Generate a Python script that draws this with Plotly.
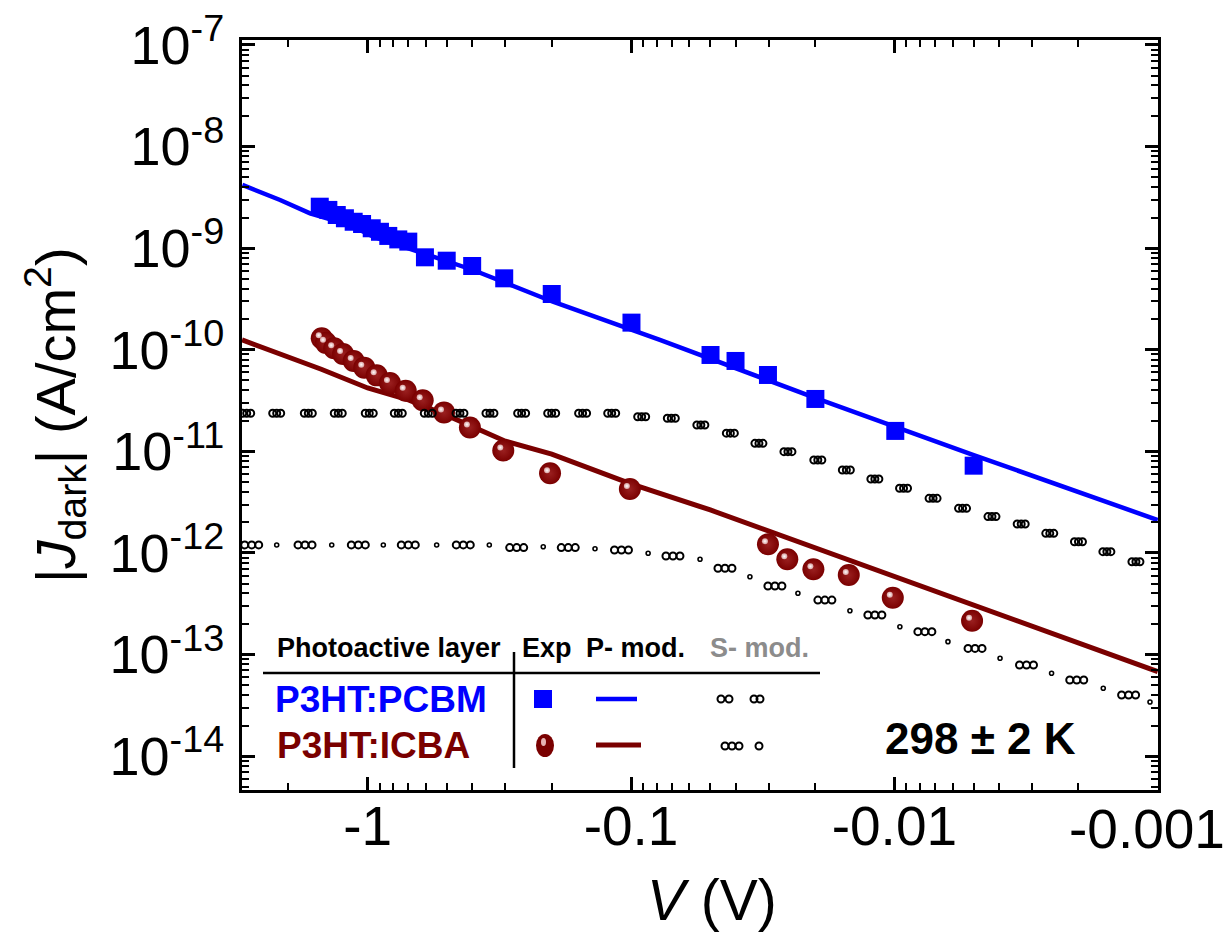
import math
import plotly.graph_objects as go

# ---------------- data: |V| (V) and |J_dark| (A/cm^2) ----------------
# P3HT:PCBM, experiment
pcbm_exp_v = [1.52, 1.41, 1.31, 1.22, 1.13, 1.05, 0.965, 0.898, 0.835, 0.765, 0.701,
              0.606, 0.501, 0.401, 0.303, 0.200, 0.0996, 0.0499, 0.0401, 0.0302,
              0.01995, 0.00992, 0.0050]
pcbm_exp_j = [2.56e-9, 2.38e-9, 2.12e-9, 1.97e-9, 1.82e-9, 1.73e-9, 1.57e-9, 1.45e-9,
              1.32e-9, 1.22e-9, 1.16e-9, 8.13e-10, 7.53e-10, 6.68e-10, 5.05e-10,
              3.54e-10, 1.85e-10, 8.89e-11, 7.76e-11, 5.65e-11, 3.28e-11, 1.59e-11,
              7.23e-12]

# P3HT:PCBM, P-model
pcbm_p_v = [2.99, 2.15, 1.655, 1.167, 0.952, 0.673, 0.398, 0.198, 0.0777, 0.02, 0.005, 0.001]
pcbm_p_j = [4.19e-9, 2.98e-9, 2.20e-9, 1.69e-9, 1.30e-9, 9.58e-10, 6.10e-10, 2.97e-10,
            1.25e-10, 3.37e-11, 9.2e-12, 2.11e-12]

# P3HT:PCBM, S-model
pcbm_s_v = [2.879, 2.215, 1.680, 1.293, 0.986, 0.765, 0.5886, 0.4461, 0.3432, 0.2602,
            0.2001, 0.1527, 0.1184, 0.0911, 0.0703, 0.0543, 0.04196, 0.03268, 0.02536,
            0.01953, 0.01522, 0.01186, 0.00923, 0.00713, 0.00551, 0.00426, 0.0033,
            0.00257, 0.0020, 0.00156, 0.00121]
pcbm_s_j = [2.37e-11, 2.37e-11, 2.37e-11, 2.37e-11, 2.37e-11, 2.37e-11, 2.37e-11,
            2.37e-11, 2.37e-11, 2.37e-11, 2.37e-11, 2.37e-11, 2.37e-11, 2.19e-11,
            2.12e-11, 1.82e-11, 1.51e-11, 1.20e-11, 9.93e-12, 8.22e-12, 6.56e-12,
            5.35e-12, 4.33e-12, 3.45e-12, 2.75e-12, 2.28e-12, 1.93e-12, 1.56e-12,
            1.29e-12, 1.03e-12, 8.2e-13]

# P3HT:ICBA, experiment
icba_exp_v = [1.494, 1.44, 1.34, 1.24, 1.13, 1.03, 0.924, 0.823, 0.717, 0.618, 0.513,
              0.409, 0.3055, 0.203, 0.101, 0.0302, 0.0255, 0.0203, 0.0149, 0.01014, 0.00507]
icba_exp_j = [1.30e-10, 1.17e-10, 1.035e-10, 9.1e-11, 7.75e-11, 6.67e-11, 5.6e-11,
              4.71e-11, 3.95e-11, 3.18e-11, 2.42e-11, 1.72e-11, 1.02e-11, 6.08e-12,
              4.26e-12, 1.22e-12, 8.66e-13, 6.9e-13, 6.07e-13, 3.63e-13, 2.15e-13]

# P3HT:ICBA, P-model
icba_p_v = [3.0, 2.0, 1.5, 1.0, 0.7, 0.5, 0.3, 0.2, 0.1, 0.05, 0.02, 0.01, 0.005, 0.002, 0.001]
icba_p_j = [1.25e-10, 8.49e-11, 6.43e-11, 4.21e-11, 3.21e-11, 2.26e-11, 1.26e-11, 9.4e-12,
            4.78e-12, 2.65e-12, 1.12e-12, 5.86e-13, 3.06e-13, 1.30e-13, 6.8e-14]

# P3HT:ICBA, S-model (grouped points and single points)
icba_s_v = [2.756, 1.729, 1.085, 0.701, 0.4334, 0.2717, 0.1731, 0.1087, 0.0693, 0.04398,
            0.02842, 0.01836, 0.01186, 0.00766, 0.00494, 0.00315, 0.00203, 0.00129]
icba_s_j = [1.20e-12, 1.20e-12, 1.20e-12, 1.20e-12, 1.20e-12, 1.13e-12, 1.13e-12, 1.07e-12,
            9.33e-13, 7.07e-13, 4.73e-13, 3.44e-13, 2.45e-13, 1.68e-13, 1.15e-13, 7.89e-14,
            5.62e-14, 4.00e-14]
icba_s1_v = [2.215, 1.369, 0.872, 0.547, 0.3452, 0.2154, 0.137, 0.0861, 0.0547, 0.03536,
             0.02324, 0.01475, 0.00953, 0.00626, 0.00397, 0.00253, 0.00161, 0.00107]
icba_s1_j = [1.20e-12, 1.20e-12, 1.20e-12, 1.20e-12, 1.20e-12, 1.15e-12, 1.10e-12, 9.93e-13,
             8.66e-13, 5.84e-13, 4.01e-13, 2.70e-13, 1.88e-13, 1.34e-13, 9.19e-14, 6.54e-14,
             4.66e-14, 3.41e-14]

x_tick_vals = [1, 0.1, 0.01, 0.001]
x_tick_text = ["-1", "-0.1", "-0.01", "-0.001"]
y_tick_exps = [-14, -13, -12, -11, -10, -9, -8, -7]

# ---------------- layout constants ----------------
W, H = 1230, 936
L, R, T, B = 242, 72, 40, 146
PW, PH = W - L - R, H - T - B
XR = [math.log10(3.0), -3.001]        # reversed log axis (|V|)
YR = [-14.333, -6.951]

BLUE = "#0000ff"
MAROON = "#7a0000"
FONT = "Liberation Sans, Arial, sans-serif"
XTICK_SIZE = 55

kx = PW / (XR[0] - XR[1])
ky = PH / (YR[1] - YR[0])


def px(x):
    return (x - L) / PW


def py(y):
    return (T + PH - y) / PH


def shifted(dx, dy):
    """Axis ranges that move drawn marks by dx (right) / dy (up) pixels."""
    d, e = dx / kx, dy / ky
    return [XR[0] + d, XR[1] + d], [YR[0] - e, YR[1] - e]


fig = go.Figure()

# S-model (drawn first, beneath the rest)
s_mark = dict(symbol="circle-open", size=7, color="black", line=dict(width=2, color="black"))
fig.add_trace(go.Scatter(x=icba_s1_v, y=icba_s1_j, mode="markers",
                         marker=dict(symbol="circle-open", size=4, color="black",
                                     line=dict(width=1.6, color="black"))))
for ax in ("", "2", "3"):
    fig.add_trace(go.Scatter(x=pcbm_s_v, y=pcbm_s_j, mode="markers", marker=s_mark,
                             xaxis="x" + ax if ax else "x", yaxis="y" + ax if ax else "y"))
for ax in ("", "6", "7"):
    fig.add_trace(go.Scatter(x=icba_s_v, y=icba_s_j, mode="markers", marker=s_mark,
                             xaxis="x" + ax if ax else "x", yaxis="y" + ax if ax else "y"))

# P-model lines
fig.add_trace(go.Scatter(x=pcbm_p_v, y=pcbm_p_j, mode="lines",
                         line=dict(color=BLUE, width=4.5)))
fig.add_trace(go.Scatter(x=icba_p_v, y=icba_p_j, mode="lines",
                         line=dict(color=MAROON, width=5)))

# experiments
fig.add_trace(go.Scatter(x=pcbm_exp_v, y=pcbm_exp_j, mode="markers",
                         marker=dict(symbol="square", size=18, color=BLUE, line=dict(width=0))))
fig.add_trace(go.Scatter(x=icba_exp_v, y=icba_exp_j, mode="markers",
                         marker=dict(symbol="circle", size=22, color=MAROON, line=dict(width=0),
                                     gradient=dict(type="radial", color="#9a2020"))))
# sphere highlights
fig.add_trace(go.Scatter(x=icba_exp_v, y=icba_exp_j, mode="markers", xaxis="x4", yaxis="y4",
                         marker=dict(symbol="circle", size=6, color="#d9a0a0", line=dict(width=0),
                                     gradient=dict(type="radial", color="#ffffff"))))

# legend key glyphs (on a 0..1 overlay frame)
fig.add_trace(go.Scatter(x=[px(543)], y=[py(699)], mode="markers", xaxis="x5", yaxis="y5",
                         marker=dict(symbol="square", size=18, color=BLUE, line=dict(width=0))))
fig.add_trace(go.Scatter(x=[px(x) for x in (721, 729, 754, 760)], y=[py(699)] * 4,
                         mode="markers", xaxis="x5", yaxis="y5", marker=s_mark))
fig.add_trace(go.Scatter(x=[px(x) for x in (725, 732, 739, 759)], y=[py(746)] * 4,
                         mode="markers", xaxis="x5", yaxis="y5", marker=s_mark))

axis_common = dict(showgrid=False, zeroline=False, showline=True, linecolor="black",
                   linewidth=3, ticks="inside", tickcolor="black", tickwidth=2.5,
                   ticklen=13, mirror="ticks", automargin=False,
                   minor=dict(ticks="inside", ticklen=7, tickwidth=2, tickcolor="black",
                              dtick="D1", showgrid=False))

# the rightmost x label sits flush with the page edge, so it is set as a
# right-aligned annotation; the axis keeps its tick
layout = dict(
    width=W, height=H, margin=dict(l=L, r=R, t=T, b=B, autoexpand=False),
    paper_bgcolor="white", plot_bgcolor="white", showlegend=False,
    font=dict(family=FONT, color="black"),
    xaxis=dict(type="log", range=XR, tickmode="array", tickvals=x_tick_vals,
               ticktext=x_tick_text[:-1] + [""], ticklabelstandoff=-14,
               tickfont=dict(family=FONT, size=XTICK_SIZE, color="black"), **axis_common),
    yaxis=dict(type="log", range=YR, tickmode="array",
               tickvals=[10.0 ** e for e in y_tick_exps],
               ticktext=["10<sup>%d</sup>" % e for e in y_tick_exps],
               ticklabelstandoff=4,
               tickfont=dict(family=FONT, size=54, color="black"), **axis_common),
)

hidden = dict(visible=False, showgrid=False, zeroline=False, fixedrange=True)
for name, (dx, dy) in {"2": (-4, 0), "3": (4, 0), "4": (-3, 3), "6": (-7, 0), "7": (7, 0)}.items():
    xr, yr = shifted(dx, dy)
    layout["xaxis" + name] = dict(type="log", range=xr, overlaying="x", anchor="y" + name, **hidden)
    layout["yaxis" + name] = dict(type="log", range=yr, overlaying="y", anchor="x" + name, **hidden)
layout["xaxis5"] = dict(range=[0, 1], overlaying="x", anchor="y5", **hidden)
layout["yaxis5"] = dict(range=[0, 1], overlaying="y", anchor="x5", **hidden)

fig.update_layout(**layout)

annotations = [
    dict(x=px(1227), y=py(829), text=x_tick_text[-1], xanchor="right",
         font=dict(size=XTICK_SIZE)),
    dict(x=px(55), y=0.5, text="|<i>J</i><sub>dark</sub>| (A/cm<sup>2</sup>)", textangle=-90,
         font=dict(size=56)),
    dict(x=px(712), y=py(900), text="<i>V</i> (V)", font=dict(size=57)),
    dict(x=px(980), y=py(738), text="<b>298 \u00b1 2 K</b>", font=dict(size=44)),
    dict(x=px(389), y=py(648), text="<b>Photoactive layer</b>", font=dict(size=27)),
    dict(x=px(547), y=py(648), text="<b>Exp</b>", font=dict(size=27)),
    dict(x=px(635), y=py(648), text="<b>P- mod.</b>", font=dict(size=27)),
    dict(x=px(759), y=py(648), text="<b>S- mod.</b>", font=dict(size=27, color="#8c8c8c")),
    dict(x=px(381), y=py(699), text="<b>P3HT:PCBM</b>", font=dict(size=37, color=BLUE)),
    dict(x=px(373), y=py(745), text="<b>P3HT:ICBA</b>", font=dict(size=37, color=MAROON)),
]
for a in annotations:
    a.setdefault("xanchor", "center")
    a.update(xref="paper", yref="paper", showarrow=False, yanchor="middle")
    f = dict(family=FONT, color="black")
    f.update(a["font"])
    a["font"] = f
fig.update_layout(annotations=annotations)

shapes = [
    dict(type="line", x0=px(263), x1=px(820), y0=py(673), y1=py(673),
         line=dict(color="black", width=2.5)),
    dict(type="line", x0=px(514), x1=px(514), y0=py(652), y1=py(768),
         line=dict(color="black", width=2.5)),
    dict(type="line", x0=px(596), x1=px(637), y0=py(699), y1=py(699),
         line=dict(color=BLUE, width=4.5)),
    dict(type="line", x0=px(596), x1=px(641), y0=py(745), y1=py(745),
         line=dict(color=MAROON, width=5)),
    dict(type="circle", x0=px(536), x1=px(554), y0=py(757), y1=py(734),
         fillcolor=MAROON, line=dict(width=0)),
    dict(type="circle", x0=px(541), x1=px(546), y0=py(746), y1=py(738),
         fillcolor="#e6b3b3", line=dict(width=0)),
]
for s in shapes:
    s.update(xref="paper", yref="paper")
fig.update_layout(shapes=shapes)

fig.write_html("out.html")
